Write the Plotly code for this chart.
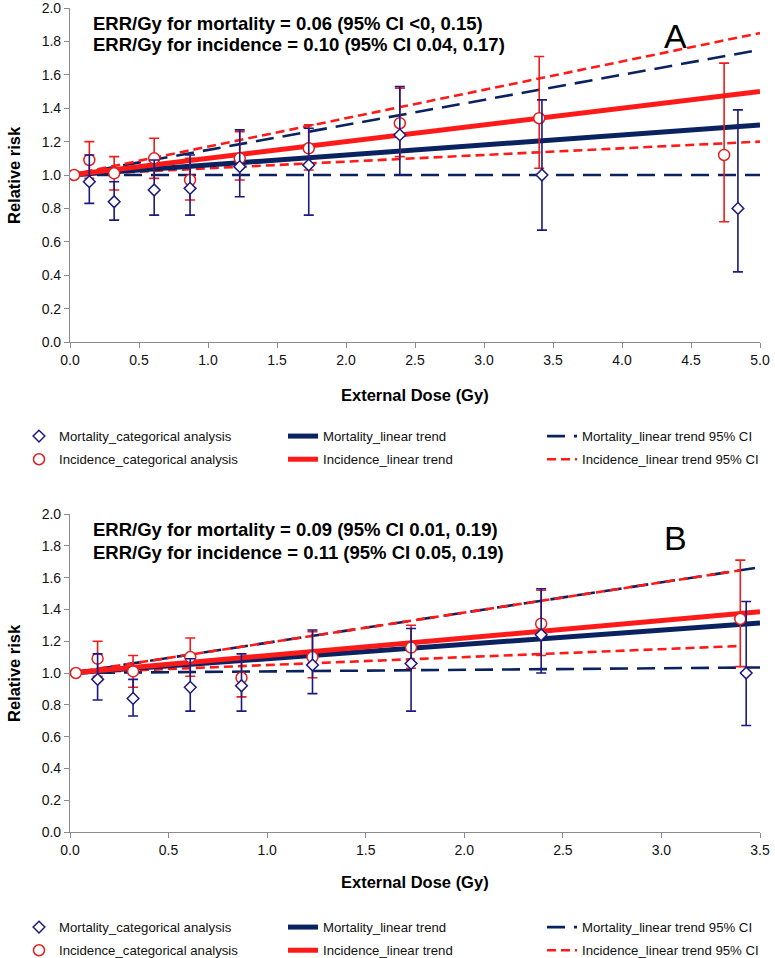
import plotly.graph_objects as go

FONT = "Liberation Sans, Arial, sans-serif"
NAVY = "#0b2260"
NAVY_BAR = "#1a1a80"
RED = "#ff1a1a"
AXC = "#8c8c8c"

W, H = 775, 958

# ---------------- Panel A data ----------------
dose_mort_A = [0.14, 0.32, 0.61, 0.87, 1.23, 1.73, 2.39, 3.42, 4.84]
rr_mort_A = [0.96, 0.84, 0.91, 0.92, 1.05, 1.06, 1.24, 1.00, 0.80]
mort_lo_A = [0.83, 0.73, 0.76, 0.76, 0.87, 0.76, 1.00, 0.67, 0.42]
mort_hi_A = [1.12, 0.96, 1.09, 1.12, 1.27, 1.28, 1.53, 1.45, 1.39]

dose_inc_A = [0.03, 0.14, 0.32, 0.61, 0.87, 1.23, 1.73, 2.39, 3.40, 4.74]
rr_inc_A = [1.00, 1.09, 1.01, 1.10, 0.97, 1.10, 1.16, 1.31, 1.34, 1.12]
inc_lo_A = [1.00, 0.98, 0.91, 0.98, 0.85, 0.97, 1.03, 1.11, 1.04, 0.72]
inc_hi_A = [1.00, 1.20, 1.11, 1.22, 1.10, 1.26, 1.30, 1.52, 1.71, 1.67]

line_dose_A = [0.0, 5.0]
mort_trend_A = [1.0, 1.30]
mort_ci_lo_A = [1.0, 1.0]
mort_ci_hi_A = [1.0, 1.75]
inc_trend_A = [1.0, 1.50]
inc_ci_lo_A = [1.0, 1.20]
inc_ci_hi_A = [1.0, 1.85]

# ---------------- Panel B data ----------------
dose_mort_B = [0.14, 0.32, 0.61, 0.87, 1.23, 1.73, 2.39, 3.43]
rr_mort_B = [0.96, 0.84, 0.91, 0.92, 1.05, 1.06, 1.24, 1.00]
mort_lo_B = [0.83, 0.73, 0.76, 0.76, 0.87, 0.76, 1.00, 0.67]
mort_hi_B = [1.12, 0.96, 1.09, 1.12, 1.27, 1.28, 1.53, 1.45]

dose_inc_B = [0.03, 0.14, 0.32, 0.61, 0.87, 1.23, 1.73, 2.39, 3.40]
rr_inc_B = [1.00, 1.09, 1.01, 1.10, 0.97, 1.10, 1.16, 1.31, 1.34]
inc_lo_B = [1.00, 0.98, 0.91, 0.98, 0.85, 0.97, 1.03, 1.11, 1.04]
inc_hi_B = [1.00, 1.20, 1.11, 1.22, 1.10, 1.26, 1.30, 1.52, 1.71]

line_dose_B = [0.0, 3.5]
mort_trend_B = [1.0, 1.315]
mort_ci_lo_B = [1.0, 1.035]
mort_ci_hi_B = [1.0, 1.665]
inc_line_dose_B = [0.0, 3.4]
inc_trend_B = [1.0, 1.385]
inc_ci_lo_B = [1.0, 1.17]
inc_ci_hi_B = [1.0, 1.646]

x_ticks_A = [0.0, 0.5, 1.0, 1.5, 2.0, 2.5, 3.0, 3.5, 4.0, 4.5, 5.0]
x_ticks_B = [0.0, 0.5, 1.0, 1.5, 2.0, 2.5, 3.0, 3.5]
y_ticks = [0.0, 0.2, 0.4, 0.6, 0.8, 1.0, 1.2, 1.4, 1.6, 1.8, 2.0]

text_A = ["ERR/Gy for mortality = 0.06 (95% CI &lt;0, 0.15)",
          "ERR/Gy for incidence = 0.10 (95% CI 0.04, 0.17)"]
text_B = ["ERR/Gy for mortality = 0.09 (95% CI 0.01, 0.19)",
          "ERR/Gy for incidence = 0.11 (95% CI 0.05, 0.19)"]
x_title = "External Dose (Gy)"
y_title = "Relative risk"

names = ["Mortality_categorical analysis", "Incidence_categorical analysis",
         "Mortality_linear trend", "Incidence_linear trend",
         "Mortality_linear trend 95% CI", "Incidence_linear trend 95% CI"]

fig = go.Figure()


def ci_xy(xs, lo, hi):
    return list(xs) + [None] + list(xs), list(lo) + [None] + list(hi)


def add_panel(tag, xa, ya, legs, ld, mt, mlo, mhi, ild, it, ilo, ihi,
              dm, rm, lm, hm, di, ri, li, hi):
    cx, cy = ci_xy(ld, mlo, mhi)
    fig.add_trace(go.Scatter(x=cx, y=cy, mode="lines", name=names[4],
                             line=dict(color=NAVY, width=2.6, dash="18px,9px"),
                             xaxis=xa, yaxis=ya, legend=legs[2], legendrank=1,
                             legendgroup=tag + "mci", hoverinfo="skip"))
    cx, cy = ci_xy(ild, ilo, ihi)
    fig.add_trace(go.Scatter(x=cx, y=cy, mode="lines", name=names[5],
                             line=dict(color=RED, width=2.6, dash="9px,5px"),
                             xaxis=xa, yaxis=ya, legend=legs[2], legendrank=2,
                             legendgroup=tag + "ici", hoverinfo="skip"))
    fig.add_trace(go.Scatter(x=ld, y=mt, mode="lines", name=names[2],
                             line=dict(color=NAVY, width=5),
                             xaxis=xa, yaxis=ya, legend=legs[1], legendrank=1,
                             legendgroup=tag + "mt"))
    fig.add_trace(go.Scatter(x=ld, y=it, mode="lines", name=names[3],
                             line=dict(color=RED, width=5),
                             xaxis=xa, yaxis=ya, legend=legs[1], legendrank=2,
                             legendgroup=tag + "it"))
    fig.add_trace(go.Scatter(
        x=di, y=ri, mode="markers", name=names[1],
        marker=dict(symbol="circle", size=11, color="white",
                    line=dict(color="#e02020", width=1.5)),
        error_y=dict(type="data", symmetric=False,
                     array=[h - r for h, r in zip(hi, ri)],
                     arrayminus=[r - l for r, l in zip(ri, li)],
                     color="#ee1c1c", thickness=1.6, width=5),
        xaxis=xa, yaxis=ya, legend=legs[0], legendrank=2, legendgroup=tag + "ic"))
    fig.add_trace(go.Scatter(
        x=dm, y=rm, mode="markers", name=names[0],
        marker=dict(symbol="diamond", size=9, color="white",
                    line=dict(color=NAVY_BAR, width=1.5)),
        error_y=dict(type="data", symmetric=False,
                     array=[h - r for h, r in zip(hm, rm)],
                     arrayminus=[r - l for r, l in zip(rm, lm)],
                     color=NAVY_BAR, thickness=1.6, width=5),
        xaxis=xa, yaxis=ya, legend=legs[0], legendrank=1, legendgroup=tag + "mc"))


add_panel("A", "x", "y", ["legend", "legend2", "legend3"],
          line_dose_A, mort_trend_A, mort_ci_lo_A, mort_ci_hi_A,
          line_dose_A, inc_trend_A, inc_ci_lo_A, inc_ci_hi_A,
          dose_mort_A, rr_mort_A, mort_lo_A, mort_hi_A,
          dose_inc_A, rr_inc_A, inc_lo_A, inc_hi_A)
add_panel("B", "x2", "y2", ["legend4", "legend5", "legend6"],
          line_dose_B, mort_trend_B, mort_ci_lo_B, mort_ci_hi_B,
          inc_line_dose_B, inc_trend_B, inc_ci_lo_B, inc_ci_hi_B,
          dose_mort_B, rr_mort_B, mort_lo_B, mort_hi_B,
          dose_inc_B, rr_inc_B, inc_lo_B, inc_hi_B)

# layout geometry (page pixels; margins are zero so paper == page)
X0, X1 = 70, 760
A_TOP, A_BOT = 8, 342
B_TOP, B_BOT = 514, 832


def py(p):
    return 1 - p / H


def px(p):
    return p / W


axis_common = dict(showgrid=False, zeroline=False, showline=True, linecolor=AXC,
                   linewidth=1.2, ticks="outside", ticklen=5, tickcolor=AXC,
                   tickwidth=1.2, tickfont=dict(family=FONT, size=14, color="#111"),
                   tickformat=".1f", ticklabeloverflow="allow")
title_font = dict(family=FONT, size=16.5, color="#000")

fig.update_layout(
    width=W, height=H, margin=dict(l=0, r=0, t=0, b=0, autoexpand=False),
    plot_bgcolor="white", paper_bgcolor="white",
    font=dict(family=FONT),
    xaxis=dict(domain=[px(X0), px(X1)], range=[0, 5], tickvals=x_ticks_A, anchor="y",
               **axis_common),
    yaxis=dict(domain=[py(A_BOT), py(A_TOP)], range=[0, 2], tickvals=y_ticks, anchor="x",
               **axis_common),
    xaxis2=dict(domain=[px(X0), px(X1)], range=[0, 3.5], tickvals=x_ticks_B, anchor="y2",
                **axis_common),
    yaxis2=dict(domain=[py(B_BOT), py(B_TOP)], range=[0, 2], tickvals=y_ticks, anchor="x2",
                **axis_common),
    showlegend=True,
)


def leg(xp, yp):
    return dict(x=xp / W, y=1 - yp / H, xref="container", yref="container",
                xanchor="left", yanchor="top", orientation="v",
                bgcolor="rgba(0,0,0,0)", tracegroupgap=3, itemsizing="trace",
                traceorder="grouped",
                font=dict(family=FONT, size=13.2, color="#111"))


legend_x = [19, 283, 542]
LA, LB = 421, 912
fig.update_layout(
    legend=leg(legend_x[0], LA), legend2=leg(legend_x[1], LA), legend3=leg(legend_x[2], LA),
    legend4=leg(legend_x[0], LB), legend5=leg(legend_x[1], LB), legend6=leg(legend_x[2], LB),
)

annots = []
for txts, ys, letter, ly, xt_y, yt_y in [(text_A, [23, 45], "A", 36, 395, 175),
                                         (text_B, [529, 552], "B", 538, 882, 673)]:
    for t, yy in zip(txts, ys):
        annots.append(dict(text="<b>" + t + "</b>", x=px(91), y=py(yy), xref="paper", yref="paper",
                           xanchor="left", yanchor="middle", showarrow=False,
                           font=dict(family=FONT, size=18.5, color="#000")))
    annots.append(dict(text=letter, x=px(675), y=py(ly), xref="paper", yref="paper",
                       xanchor="center", yanchor="middle", showarrow=False,
                       font=dict(family=FONT, size=34, color="#000")))
    annots.append(dict(text="<b>" + x_title + "</b>", x=px(415), y=py(xt_y), xref="paper", yref="paper",
                       xanchor="center", yanchor="middle", showarrow=False, font=title_font))
    annots.append(dict(text="<b>" + y_title + "</b>", x=px(14), y=py(yt_y), xref="paper", yref="paper",
                       xanchor="center", yanchor="middle", showarrow=False, textangle=-90,
                       font=title_font))
fig.update_layout(annotations=annots)

fig.write_html("out.html", config={"displayModeBar": False},
               post_script="document.body.style.margin='0px';")
